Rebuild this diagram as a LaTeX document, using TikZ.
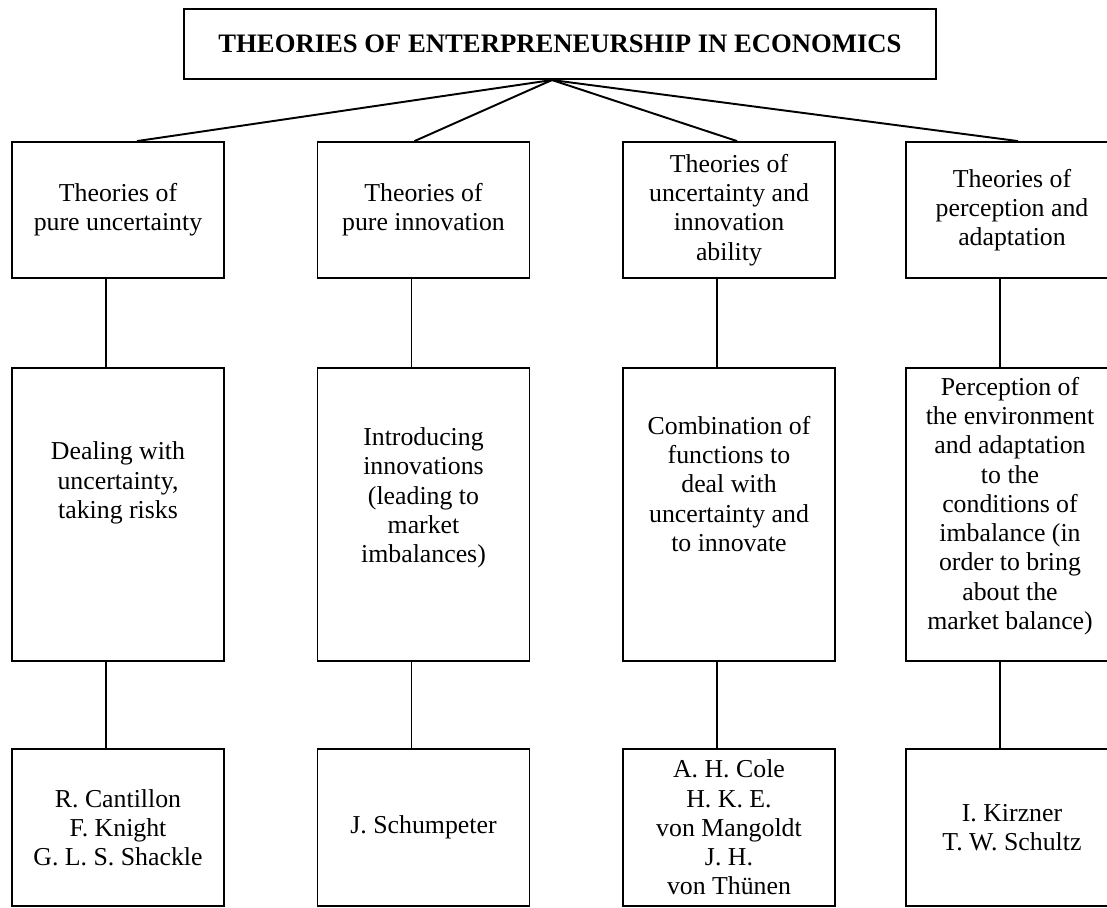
\documentclass[tikz,border=0pt]{standalone}
\usepackage{fontspec}
\setmainfont{Liberation Serif}
\usetikzlibrary{calc}

\begin{document}
\begin{tikzpicture}[x=0.465pt, y=-0.465pt,
  card/.style={draw, line width=0.9pt, minimum width=98.6pt, inner sep=0pt,
    align=center, font=\fontsize{12}{13.6}\selectfont},
  txt/.style={align=center, inner sep=0pt, font=\fontsize{12}{13.6}\selectfont},
  link/.style={line width=0.9pt}]
  \useasboundingbox (0,0) rectangle (1107,907);
  \node[card, minimum width=349.7pt, minimum height=32.6pt,
    font=\fontsize{12.4}{14}\selectfont\bfseries] (top) at (560,44)
    {THEORIES OF ENTERPRENEURSHIP IN ECONOMICS};
  \coordinate (hub) at ($(top.south)+(-8,0)$);
  \node[card, minimum height=63.2pt] (u1) at (118,210) {Theories of\\pure uncertainty};
  \node[card, minimum height=63.2pt] (u2) at (423.5,210) {Theories of\\pure innovation};
  \node[card, minimum height=63.2pt] (u3) at (729,210)
    {Theories of\\uncertainty and\\innovation\\ability};
  \node[card, minimum height=63.2pt] (u4) at (1012,210)
    {Theories of\\perception and\\adaptation};
  \node[card, minimum height=136.2pt] (m1) at (118,514.5) {};
  \node[card, minimum height=136.2pt] (m2) at (423.5,514.5) {};
  \node[card, minimum height=136.2pt] (m3) at (729,514.5) {};
  \node[card, minimum height=136.2pt] (m4) at (1012,514.5) {};
  \node[txt] (m1t) at (118,483) {Dealing with\\uncertainty,\\taking risks};
  \node[txt] (m2t) at (423.5,498) {Introducing\\innovations\\(leading to\\market\\imbalances)};
  \node[txt] (m3t) at (729,484)
    {Combination of\\functions to\\deal with\\uncertainty and\\to innovate};
  \node[txt] (m4t) at (1010,506) {Perception of\\the environment\\and adaptation\\to the\\conditions of\\imbalance (in\\order to bring\\about the\\market balance)};
  \node[card, minimum height=73pt] (a1) at (118,827.5)
    {R. Cantillon\\F. Knight\\G. L. S. Shackle};
  \node[card, minimum height=73pt] (a2) at (423.5,827.5) {J. Schumpeter};
  \node[card, minimum height=73pt] (a3) at (729,827.5)
    {A. H. Cole\\H. K. E.\\von Mangoldt\\J. H.\\von Thünen};
  \node[card, minimum height=73pt] (a4) at (1012,827.5) {I. Kirzner\\T. W. Schultz};
  \foreach \i/\dx in {1/19,2/-9,3/8,4/6}
    \draw[link] (hub) -- ($(u\i.north)+(\dx,0)$);
  \foreach \i in {1,...,4} {
    \draw[link] ($(u\i.south)+(-12,0)$) -- ($(m\i.north)+(-12,0)$);
    \draw[link] ($(m\i.south)+(-12,0)$) -- ($(a\i.north)+(-12,0)$);
  }
\end{tikzpicture}
\end{document}
